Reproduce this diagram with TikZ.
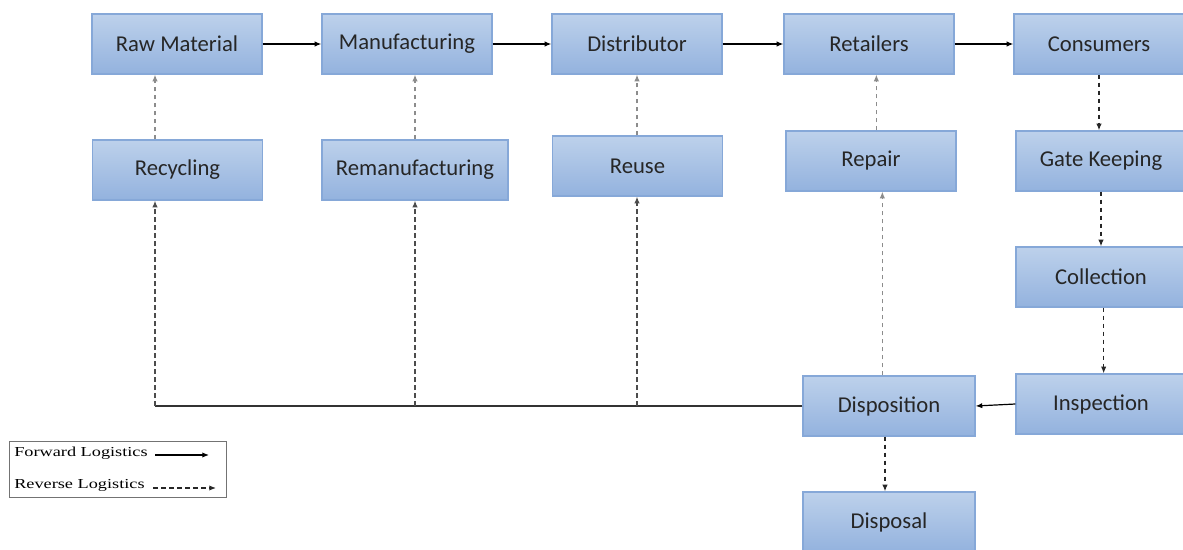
\documentclass[tikz,border=0pt]{standalone}
\usepackage{graphicx}
\usepackage{fontspec}
\setmainfont{Carlito}
\newfontfamily\legfont{Liberation Serif}
\usetikzlibrary{arrows.meta}
\definecolor{boxtop}{HTML}{BDD1EB}
\definecolor{boxbot}{HTML}{93B2DE}
\definecolor{boxborder}{HTML}{86A8D8}
\begin{document}
\begin{tikzpicture}[x=0.75pt,y=-0.75pt,
  box/.style={draw=boxborder, line width=0.9pt, top color=boxtop, bottom color=boxbot,
    minimum width=127.5pt, minimum height=45pt, inner sep=0pt,
    font=\fontsize{17}{20}\selectfont, text=black!85},
  tip/.style={-{Latex[length=5pt,width=4pt]}},
  fwd/.style={tip, line width=0.9pt, black},
  revk/.style={tip, line width=0.9pt, black!85, dash pattern=on 3.5pt off 2.5pt},
  revg/.style={tip, line width=0.9pt, black!45, dash pattern=on 3.5pt off 2.5pt},
  revm/.style={tip, line width=0.9pt, black!70, dash pattern=on 3.5pt off 2.5pt},
  legtext/.style={anchor=west, inner sep=0pt, font=\legfont\fontsize{10.3}{12}\selectfont}
]
\useasboundingbox (0,0) rectangle (1183,550);

% forward chain
\node[box] (raw)  at (177,44)  {Raw Material};
\node[box] (man)  at (407,44)  {Manufacturing};
\node[box] (dist) at (637,44)  {Distributor};
\node[box] (ret)  at (869,44)  {Retailers};
\node[box] (con)  at (1099,44) {Consumers};

% second row
\node[box] (rec)   at (177.5,170) {Recycling};
\node[box, minimum width=139.5pt] (reman) at (415,170) {Remanufacturing};
\node[box] (reuse) at (637.5,166) {Reuse};
\node[box] (rep)   at (871,161)   {Repair};
\node[box] (gate)  at (1101,161)  {Gate Keeping};

% right column
\node[box] (coll) at (1101,277) {Collection};
\node[box] (insp) at (1101,404) {Inspection};
\node[box, minimum width=129pt] (disp) at (889,406) {Disposition};
\node[box, minimum width=129pt] (dspl) at (889,522) {Disposal};

% forward arrows
\draw[fwd] (raw.east) -- (man.west);
\draw[fwd] (man.east) -- (dist.west);
\draw[fwd] (dist.east) -- (ret.west);
\draw[fwd] (ret.east) -- (con.west);
\draw[fwd] (insp.west) -- (disp.east);

% reverse down the right column
\draw[revk] (con.south) -- (con.south |- gate.north);
\draw[revk] (gate.south) -- (gate.south |- coll.north);
\draw[revk] ([xshift=2pt]coll.south) -- ([xshift=2pt]coll.south |- insp.north);
\draw[revk] ([xshift=-3pt]disp.south) -- ([xshift=-3pt]disp.south |- dspl.north);

% return line
\coordinate (c1) at (155,406);
\coordinate (c2) at (415,406);
\coordinate (c3) at (637,406);
\draw[line width=0.9pt, black!80] (disp.west) -- (c1);
\draw[revm] (c1) -- (c1 |- rec.south);
\draw[revm] (c2) -- (c2 |- reman.south);
\draw[revm] (c3) -- (c3 |- reuse.south);
\draw[revg] ([xshift=-5pt]disp.north) -- ([xshift=-5pt]disp.north |- rep.south);

% reverse up to the first row
\draw[revg] (rec.north -| c1) -- (raw.south -| c1);
\draw[revg] (reman.north -| c2) -- (man.south -| c2);
\draw[revg] (reuse.north -| c3) -- (dist.south -| c3);
\draw[revg] ([xshift=4pt]rep.north) -- ([xshift=4pt]rep.north |- ret.south);

% legend
\node[draw=black!55, line width=0.7pt, minimum width=163pt, minimum height=42.5pt, inner sep=0pt] (leg) at (118,469.5) {};
\node[legtext] (lf) at (14,453) {\scalebox{1.33}[1]{Forward Logistics}};
\node[legtext] (lr) at (14,485) {\scalebox{1.33}[1]{Reverse Logistics}};
\coordinate (lfa) at (155,455);
\coordinate (lfb) at (209,455);
\coordinate (lra) at (153,488);
\coordinate (lrb) at (216,488);
\draw[fwd] (lfa) -- (lfb);
\draw[revk] (lra) -- (lrb);
\end{tikzpicture}
\end{document}
